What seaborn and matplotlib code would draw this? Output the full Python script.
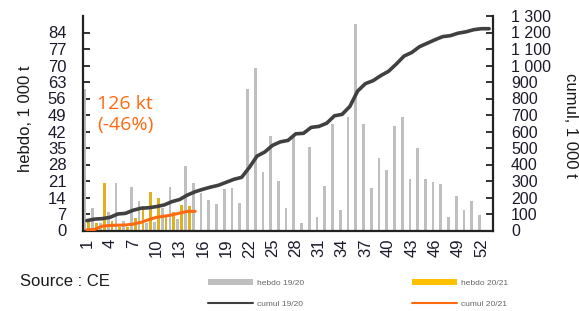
import matplotlib
matplotlib.use("Agg")
import matplotlib.pyplot as plt
import seaborn as sns
import pandas as pd
import numpy as np
from matplotlib.patches import Patch
from matplotlib.lines import Line2D

weeks = list(range(1, 54))
hebdo_1920 = [60, 9.5, 3, 8, 20, 4, 18.5, 12.5, 3, 3.5, 9.5, 18.5, 5, 27.5, 20.3,
              15.8, 13, 11.1, 17.5, 18.2, 11.8, 60.2, 68.9, 24.7, 39.9, 21.1, 9.4,
              39.9, 3, 35.6, 5.9, 18.9, 45, 8.7, 48, 87.6, 45, 18.2, 30.6, 25.6,
              44.4, 48, 21.7, 34.9, 21.8, 20.4, 19.8, 5.9, 14.6, 8.8, 12.4, 6.6, 0]
hebdo_2021 = [3.5, 3, 20, 4, 1.5, 1.5, 5.5, 10.5, 16.5, 14, 6.5, 8, 11, 10.5, 0]
cumul_1920 = [60, 69, 72, 80, 100, 104, 123, 135, 138, 145, 155, 175, 188, 215, 235,
              250, 263, 274, 292, 310, 322, 382, 451, 476, 516, 537, 546, 586, 589,
              625, 631, 650, 695, 704, 752, 845, 890, 908, 939, 965, 1009, 1057,
              1079, 1114, 1135, 1156, 1175, 1181, 1196, 1204, 1217, 1223, 1223]
cumul_2021 = [3.5, 6.5, 26.5, 30.5, 32, 33.5, 39, 49.5, 66, 80, 86.5, 94.5, 105.5, 116, 116]
left_ticks = list(range(0, 85, 7))
right_ticks = list(range(0, 1301, 100))
right_labels = ["0", "100", "200", "300", "400", "500", "600", "700", "800", "900",
                "1 000", "1 100", "1 200", "1 300"]
xtick_weeks = list(range(1, 53, 3))

sns.set_style("white")
plt.rcParams["font.family"] = ["Liberation Sans", "DejaVu Sans"]

GRAY = "#bfbfbf"
YELLOW = "#ffc000"
DARK = "#404040"
ORANGE = "#ff6a10"

n = len(weeks)
y2021_full = hebdo_2021 + [0] * (n - len(hebdo_2021))
df = pd.DataFrame({
    "week": [str(w) for w in weeks] * 2,
    "serie": ["hebdo 19/20"] * n + ["hebdo 20/21"] * n,
    "val": hebdo_1920 + y2021_full,
})

fig = plt.figure(figsize=(5.79, 3.11), dpi=100)
ax = fig.add_axes([83 / 579, 80.5 / 311, 410 / 579, 214.5 / 311])

sns.barplot(data=df, x="week", y="val", hue="serie", order=[str(w) for w in weeks],
            hue_order=["hebdo 19/20", "hebdo 20/21"],
            palette=[GRAY, YELLOW], width=0.98, gap=0.28, linewidth=0,
            legend=False, ax=ax, errorbar=None)
ax.set_xlim(-0.5, n - 0.5)
ax.set_ylim(0, 91)
ax.set_yticks(left_ticks)
ax.set_yticklabels([str(t) for t in left_ticks], fontsize=12, color="#1a1a2a")
ax.set_xticks([w - 1 for w in xtick_weeks])
ax.set_xticklabels([str(w) for w in xtick_weeks], rotation=90, fontsize=12, color="#1a1a2a")
ax.tick_params(axis="y", direction="in", length=5, width=1.3, pad=12, color="#222222")
ax.tick_params(axis="x", length=0, pad=6)
ax.set_xlabel("")
ax.set_ylabel("hebdo, 1 000 t", fontsize=12, color="#1a1a1a")
ax.yaxis.set_label_coords((33 - 83) / 410, 0.52)
for s in ["top", "right"]:
    ax.spines[s].set_visible(False)
for s in ["left", "bottom"]:
    ax.spines[s].set_color("#222222")
    ax.spines[s].set_linewidth(1.6)

ax2 = ax.twinx()
x_1920 = [w - 1 for w in weeks]
x_2021 = [w - 1 for w in weeks[:len(cumul_2021)]]
sns.lineplot(x=x_1920, y=cumul_1920, color=DARK, linewidth=2.6, ax=ax2)
sns.lineplot(x=x_2021, y=cumul_2021, color=ORANGE, linewidth=2.2, ax=ax2)
ax2.set_ylim(0, 1300)
ax2.set_yticks(right_ticks)
ax2.set_yticklabels(right_labels, fontsize=11.5, color="#1a1a2a")
ax2.tick_params(axis="y", direction="in", length=5, width=1.3, pad=13, color="#222222")
ax2.set_ylabel("cumul, 1 000 t", fontsize=12, color="#1a1a1a", rotation=270, va="center")
ax2.yaxis.set_label_coords((571 - 83) / 410, 0.49)
ax2.spines["top"].set_visible(False)
ax2.spines["left"].set_visible(False)
ax2.spines["bottom"].set_visible(False)
ax2.spines["right"].set_color("#222222")
ax2.spines["right"].set_linewidth(1.6)
ax2.set_xlim(-0.5, n - 0.5)

ax.text(0.035, 0.54, "126 kt\n(-46%)", transform=ax.transAxes, fontsize=14,
        color=ORANGE, ha="left", va="center", linespacing=1.2,
        family=["Open Sans", "DejaVu Sans"])

fig.text(20 / 579, 1 - 282 / 311, "Source : CE", fontsize=12, color="#1a1a1a",
         ha="left", va="center")

handles = [Patch(facecolor=GRAY, edgecolor="none"),
           Line2D([0], [0], color=DARK, lw=1.5),
           Patch(facecolor=YELLOW, edgecolor="none"),
           Line2D([0], [0], color=ORANGE, lw=1.5)]
labels = ["hebdo 19/20", "cumul 19/20", "hebdo 20/21", "cumul 20/21"]
fig.legend(handles, labels, ncol=2, loc="center", bbox_to_anchor=(358 / 579, 1 - 293.5 / 311),
           frameon=False, fontsize=6, labelcolor="#666666", handlelength=5.4,
           handleheight=0.7, columnspacing=13, labelspacing=1.5, handletextpad=0.5)

fig.savefig("out.png", dpi=100)
